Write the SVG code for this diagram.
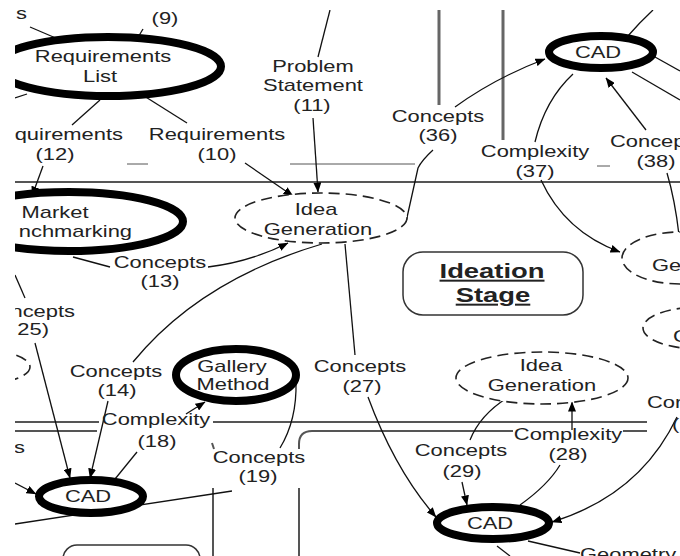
<svg xmlns="http://www.w3.org/2000/svg" width="680" height="556" viewBox="0 0 680 556">
<defs>
<style>
.t{font-family:"Liberation Sans",Arial,sans-serif;font-size:16px;fill:#222;text-anchor:middle}
.st{text-anchor:start}
.en{text-anchor:end}
.stage{font-weight:bold;font-size:20px;text-decoration:underline}
.edge{fill:none;stroke:#111;stroke-width:1.3}
.arr{marker-end:url(#ah)}
.tool{fill:#fff;stroke:#000;stroke-width:8}
.idea{fill:#fff;stroke:#222;stroke-width:1.6;stroke-dasharray:11 6}
.lane{fill:none;stroke:#555;stroke-width:2}
.lane-v{fill:none;stroke:#666;stroke-width:3}
.lane-thin{fill:none;stroke:#555;stroke-width:1}
.box{fill:#fff;stroke:#333;stroke-width:1.5}
</style>
<marker id="ah" viewBox="0 0 10 8" refX="9.5" refY="4" markerWidth="10" markerHeight="8" markerUnits="userSpaceOnUse" orient="auto"><path d="M0,0 L10,4 L0,8z" fill="#000"/></marker>
<clipPath id="frame"><rect x="15" y="10" width="665" height="546"/></clipPath>
</defs>
<rect width="680" height="556" fill="#fff"/>
<g clip-path="url(#frame)">

<!-- stage boundaries -->
<g id="lanes">
<path class="lane-v" d="M439,10 V105 M503,10 V140"/>
<path class="lane" d="M15,182 H680"/>
<path class="lane-thin" d="M127,164 H148 M290,164 H415 M597,166 H610"/>
<path class="lane" stroke="#777" d="M15,422 H99 M213,422 H647"/>
<path class="lane" stroke="#333" stroke-width="1.5" d="M15,431 H97 M513,431 H312 Q299,431 299,444 V449 M299,488 V556 M623,431 H647"/>
<path class="lane" stroke="#666" stroke-width="2.5" d="M212,443 L214,449 M213,488 V556"/>
</g>

<!-- connectors -->
<g id="connectors">
<path class="edge arr" d="M143,29 L134,44"/>
<path class="edge arr" d="M30,27 L72,45"/>
<path class="edge" d="M15,98 L27,94"/>
<path class="edge" d="M100,100 L72,125"/>
<path class="edge arr" d="M43,166 L32,196"/>
<path class="edge" d="M133,89 L187,123"/>
<path class="edge arr" d="M245,163 L293,196"/>
<path class="edge" d="M330,10 L318,57"/>
<path class="edge arr" d="M313,118 L318,192"/>
<path class="edge" d="M406,222 L418,168 Q422,160 433,150"/>
<path class="edge arr" d="M455,107 Q495,78 545,59"/>
<path class="edge" d="M573,74 Q545,100 535,142"/>
<path class="edge arr" d="M541,180 Q565,232 620,252"/>
<path class="edge arr" d="M646,130 L606,78"/>
<path class="edge" d="M627,37 Q640,22 653,10"/>
<path class="edge" d="M655,57 L680,71"/>
<path class="edge" d="M632,72 L680,100"/>
<path class="edge" d="M667,173 Q675,200 679,235"/>
<path class="edge" d="M73,257 L110,267"/>
<path class="edge arr" d="M208,267 Q250,262 288,243"/>
<path class="edge" d="M322,244 Q200,280 133,362"/>
<path class="edge arr" d="M108,401 L90,478"/>
<path class="edge" d="M345,244 Q350,300 355,355"/>
<path class="edge arr" d="M368,397 Q395,470 436,517"/>
<path class="edge" d="M15,275 L25,298"/>
<path class="edge arr" d="M35,343 L70,478"/>
<path class="edge arr" d="M15,483 L36,494"/>
<path class="edge" d="M115,479 L137,452"/>
<path class="edge arr" d="M186,414 L205,402"/>
<path class="edge" d="M296,382 Q297,420 280,448"/>
<path class="edge" d="M232,491 Q140,505 15,524"/>
<path class="edge" d="M507,398 Q480,415 470,440"/>
<path class="edge arr" d="M462,482 L467,505"/>
<path class="edge" d="M520,505 Q548,485 560,465"/>
<path class="edge arr" d="M572,430 L572,402"/>
<path class="edge arr" d="M677,417 Q640,495 552,522"/>
<path class="edge" d="M528,541 L580,553"/>
<path class="edge" d="M497,546 L510,556"/>
</g>

<!-- nodes -->
<g id="requirements-list">
<ellipse class="tool" cx="108" cy="66.5" rx="113" ry="29.5"/>
<text class="t" transform="translate(103 61.5) scale(1.37 1)">Requirements</text>
<text class="t" transform="translate(100 82) scale(1.37 1)">List</text>
</g>
<g id="cad-top">
<ellipse class="tool" cx="601" cy="52" rx="52" ry="16"/>
<text class="t" transform="translate(598 57.5) scale(1.37 1)">CAD</text>
</g>
<g id="market-benchmarking">
<ellipse class="tool" cx="69" cy="221.5" rx="114" ry="29.5"/>
<text class="t" transform="translate(55 218) scale(1.37 1)">Market</text>
<text class="t en" transform="translate(132 237) scale(1.37 1)">nchmarking</text>
</g>
<g id="idea-generation-top">
<ellipse class="idea" cx="321" cy="218" rx="86" ry="25"/>
<text class="t" transform="translate(316 215) scale(1.37 1)">Idea</text>
<text class="t" transform="translate(318 235) scale(1.37 1)">Generation</text>
</g>
<g id="ideation-stage">
<rect class="box" x="403" y="252" width="180" height="63" rx="20"/>
<text class="t stage" transform="translate(492 278) scale(1.37 1)">Ideation</text>
<text class="t stage" transform="translate(493 302) scale(1.37 1)">Stage</text>
</g>
<g id="ge-node">
<ellipse class="idea" cx="680" cy="258" rx="58" ry="26"/>
<text class="t st" transform="translate(652 271) scale(1.37 1)">Ge</text>
</g>
<g id="c-node">
<ellipse class="idea" cx="700" cy="328" rx="57" ry="21"/>
<text class="t st" transform="translate(673 342) scale(1.37 1)">C</text>
</g>
<g id="left-node">
<ellipse class="idea" cx="-20" cy="367" rx="50" ry="17"/>
</g>
<g id="gallery-method">
<ellipse class="tool" cx="236" cy="375" rx="60" ry="26"/>
<text class="t" transform="translate(232 372) scale(1.37 1)">Gallery</text>
<text class="t" transform="translate(233 390) scale(1.37 1)">Method</text>
</g>
<g id="idea-generation-bottom">
<ellipse class="idea" cx="542" cy="378" rx="86" ry="26"/>
<text class="t" transform="translate(541 371) scale(1.37 1)">Idea</text>
<text class="t" transform="translate(542 391) scale(1.37 1)">Generation</text>
</g>
<g id="cad-left">
<ellipse class="tool" cx="91" cy="496.5" rx="52" ry="16.5"/>
<text class="t" transform="translate(88 502) scale(1.37 1)">CAD</text>
</g>
<g id="cad-right">
<ellipse class="tool" cx="493" cy="523" rx="56" ry="16"/>
<text class="t" transform="translate(490 529) scale(1.37 1)">CAD</text>
</g>
<g id="bottom-box">
<rect class="box" x="63" y="545" width="137" height="40" rx="14"/>
</g>

<!-- connector labels -->
<g id="labels">
<text class="t" transform="translate(165 24) scale(1.37 1)">(9)</text>
<text class="t en" transform="translate(27 19) scale(1.37 1)">s</text>
<text class="t" transform="translate(313 72) scale(1.37 1)">Problem</text>
<text class="t" transform="translate(313 91) scale(1.37 1)">Statement</text>
<text class="t" transform="translate(312 111) scale(1.37 1)">(11)</text>
<text class="t en" transform="translate(123 140) scale(1.37 1)">quirements</text>
<text class="t" transform="translate(55 160) scale(1.37 1)">(12)</text>
<text class="t" transform="translate(217 140) scale(1.37 1)">Requirements</text>
<text class="t" transform="translate(217 160) scale(1.37 1)">(10)</text>
<text class="t" transform="translate(438 122) scale(1.37 1)">Concepts</text>
<text class="t" transform="translate(438 141) scale(1.37 1)">(36)</text>
<text class="t" transform="translate(535 157) scale(1.37 1)">Complexity</text>
<text class="t" transform="translate(535 177) scale(1.37 1)">(37)</text>
<text class="t st" transform="translate(610 147) scale(1.37 1)">Concep</text>
<text class="t" transform="translate(656 167) scale(1.37 1)">(38)</text>
<text class="t" transform="translate(160 268) scale(1.37 1)">Concepts</text>
<text class="t" transform="translate(160 287) scale(1.37 1)">(13)</text>
<text class="t en" transform="translate(75 317) scale(1.37 1)">ncepts</text>
<text class="t en" transform="translate(49 335) scale(1.37 1)">25)</text>
<text class="t" transform="translate(360 372) scale(1.37 1)">Concepts</text>
<text class="t" transform="translate(362 392) scale(1.37 1)">(27)</text>
<text class="t" transform="translate(116 377) scale(1.37 1)">Concepts</text>
<text class="t" transform="translate(117 396) scale(1.37 1)">(14)</text>
<text class="t" transform="translate(156 425) scale(1.37 1)">Complexity</text>
<text class="t" transform="translate(157 447) scale(1.37 1)">(18)</text>
<text class="t en" transform="translate(25 453) scale(1.37 1)">s</text>
<text class="t" transform="translate(259 463) scale(1.37 1)">Concepts</text>
<text class="t" transform="translate(258 482) scale(1.37 1)">(19)</text>
<text class="t" transform="translate(461 456) scale(1.37 1)">Concepts</text>
<text class="t" transform="translate(462 477) scale(1.37 1)">(29)</text>
<text class="t" transform="translate(568 440) scale(1.37 1)">Complexity</text>
<text class="t" transform="translate(568 460) scale(1.37 1)">(28)</text>
<text class="t st" transform="translate(647 408) scale(1.37 1)">Cor</text>
<text class="t st" transform="translate(672 430) scale(1.37 1)">(</text>
<text class="t st" transform="translate(580 560) scale(1.37 1)">Geometry</text>
</g>
</g>
</svg>
